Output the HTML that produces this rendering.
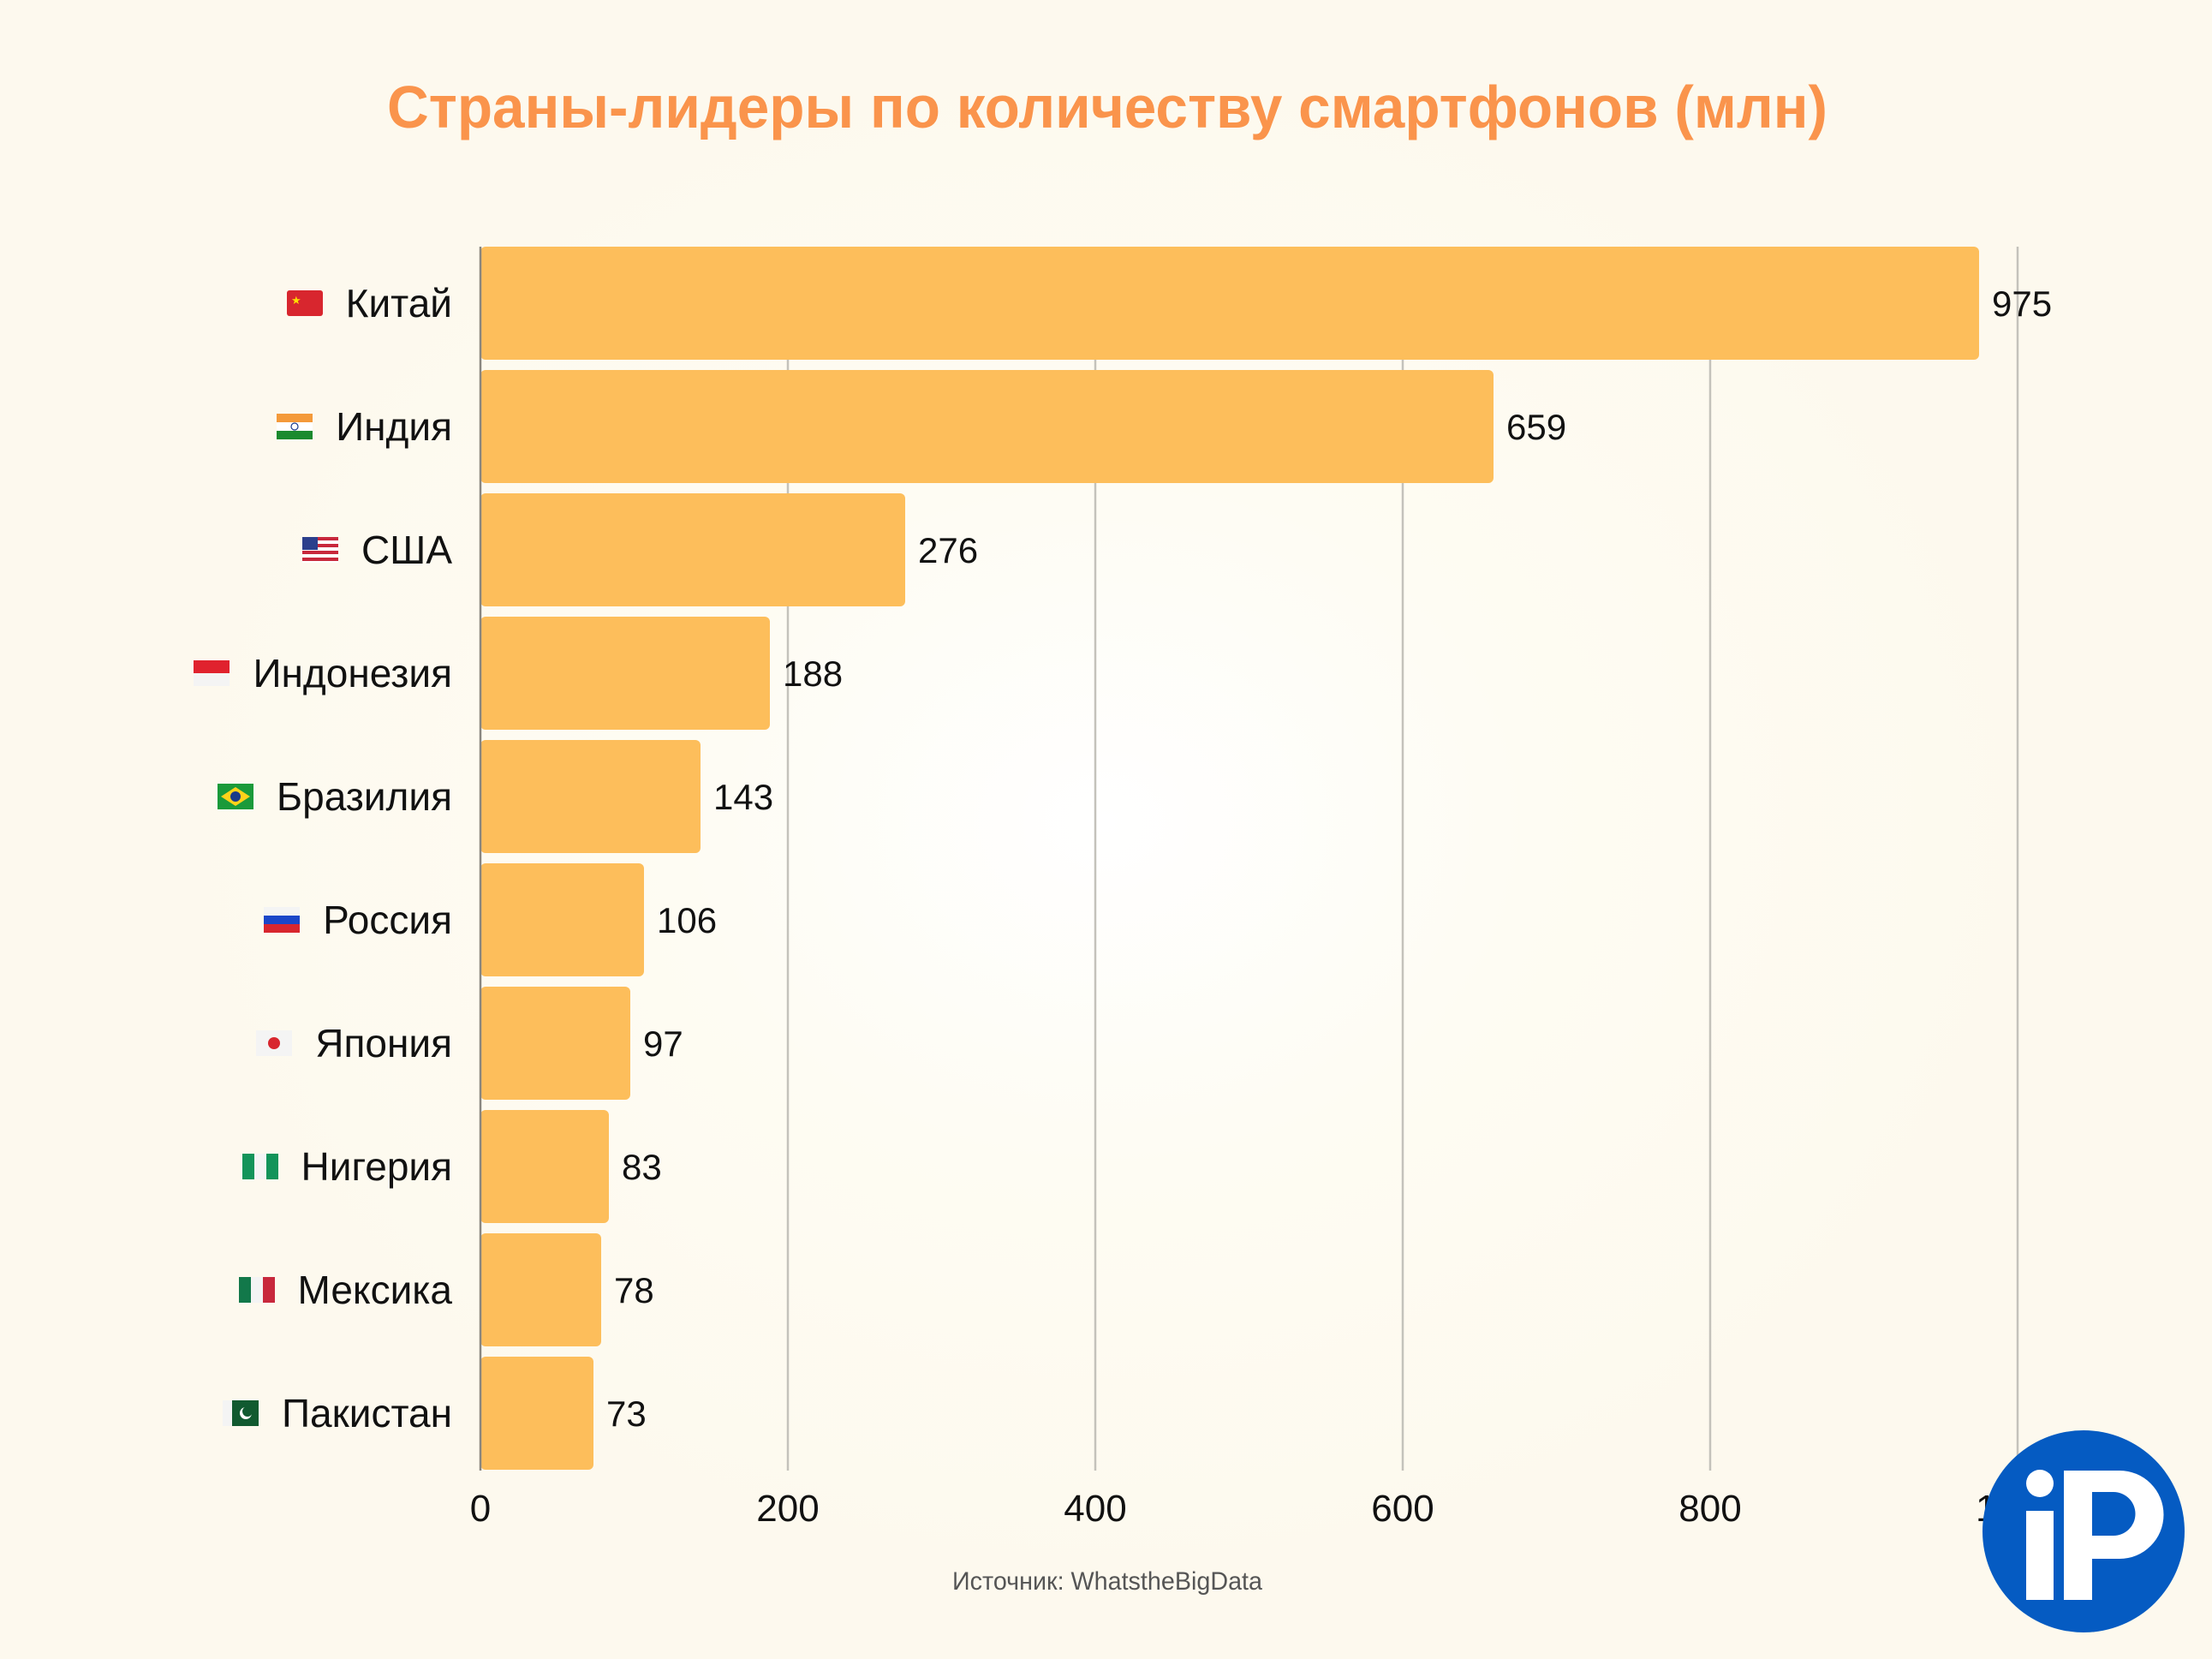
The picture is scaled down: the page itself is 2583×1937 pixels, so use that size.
<!DOCTYPE html>
<html><head><meta charset="utf-8">
<style>
html,body{margin:0;padding:0}
body{width:2583px;height:1937px;position:relative;overflow:hidden;
background:radial-gradient(ellipse 1100px 900px at 1290px 960px,#ffffff 0%,#fefcf3 45%,#fdf9ee 100%);
font-family:"Liberation Sans","DejaVu Sans",sans-serif;}
.lbl{position:absolute;right:2055px;height:60px;display:flex;align-items:center;font-size:46px;color:#111;white-space:nowrap}
.lbl svg{margin-right:27px}
</style></head><body>
<svg width="2583" height="1937" style="position:absolute;left:0;top:0">
<text x="1293" y="149" text-anchor="middle" font-family="Liberation Sans, sans-serif" font-weight="bold" font-size="70" fill="#fa944c" textLength="1682" lengthAdjust="spacingAndGlyphs">Страны-лидеры по количеству смартфонов (млн)</text>
<g stroke="#c4c2bb" stroke-width="2.5">
<line x1="920" y1="288" x2="920" y2="1717"/>
<line x1="1279" y1="288" x2="1279" y2="1717"/>
<line x1="1638" y1="288" x2="1638" y2="1717"/>
<line x1="1997" y1="288" x2="1997" y2="1717"/>
<line x1="2356" y1="288" x2="2356" y2="1717"/>
</g>
<g fill="#fdbe5b">
<rect x="561" y="288" width="1750" height="132" rx="6"/>
<rect x="561" y="432" width="1183" height="132" rx="6"/>
<rect x="561" y="576" width="496" height="132" rx="6"/>
<rect x="561" y="720" width="338" height="132" rx="6"/>
<rect x="561" y="864" width="257" height="132" rx="6"/>
<rect x="561" y="1008" width="191" height="132" rx="6"/>
<rect x="561" y="1152" width="175" height="132" rx="6"/>
<rect x="561" y="1296" width="150" height="132" rx="6"/>
<rect x="561" y="1440" width="141" height="132" rx="6"/>
<rect x="561" y="1584" width="132" height="132" rx="6"/>
</g>
<line x1="561" y1="288" x2="561" y2="1717" stroke="#8a8780" stroke-width="2.5"/>
<g font-family="Liberation Sans, sans-serif" font-size="42" fill="#111">
<text x="2326" y="369">975</text>
<text x="1759" y="513">659</text>
<text x="1072" y="657">276</text>
<text x="914" y="801">188</text>
<text x="833" y="945">143</text>
<text x="767" y="1089">106</text>
<text x="751" y="1233">97</text>
<text x="726" y="1377">83</text>
<text x="717" y="1521">78</text>
<text x="708" y="1665">73</text>
</g>
<g font-family="Liberation Sans, sans-serif" font-size="44" fill="#111" text-anchor="middle">
<text x="561" y="1776">0</text>
<text x="920" y="1776">200</text>
<text x="1279" y="1776">400</text>
<text x="1638" y="1776">600</text>
<text x="1997" y="1776">800</text>
<text x="2356" y="1776">1000</text>
</g>
<text x="1293" y="1856" text-anchor="middle" font-family="Liberation Sans, sans-serif" font-size="30" fill="#555" textLength="362" lengthAdjust="spacingAndGlyphs">Источник: WhatstheBigData</text>
<circle cx="2433" cy="1788" r="118" fill="#055bc2"/>
<circle cx="2382" cy="1732" r="16" fill="#fff"/>
<rect x="2366" y="1764" width="32" height="104" fill="#fff"/>
<path d="M2410 1717 H2475 A51.5 51.5 0 0 1 2475 1820 H2443 V1868 H2410 Z M2443 1742 V1793 H2468 A25.5 25.5 0 0 0 2468 1742 Z" fill="#fff" fill-rule="evenodd"/>
</svg>

<div class="lbl" style="top:324px"><svg width="42" height="30"><rect width="42" height="30" rx="3" fill="#d8262e"/><text x="5" y="16" font-size="13" fill="#ffde00">★</text></svg>Китай</div>
<div class="lbl" style="top:468px"><svg width="42" height="30"><rect width="42" height="10" fill="#f49a3a"/><rect y="10" width="42" height="10" fill="#fff"/><rect y="20" width="42" height="10" fill="#1a8a2e"/><circle cx="21" cy="15" r="4" fill="none" stroke="#1a3a8a" stroke-width="1.2"/></svg>Индия</div>
<div class="lbl" style="top:612px"><svg width="42" height="30"><rect width="42" height="30" fill="#fff"/><g fill="#c8283c"><rect y="0" width="42" height="4"/><rect y="8" width="42" height="4"/><rect y="16" width="42" height="4"/><rect y="24" width="42" height="4"/></g><rect width="18" height="15" fill="#2b3f8c"/></svg>США</div>
<div class="lbl" style="top:756px"><svg width="42" height="30"><rect width="42" height="15" fill="#e0222e"/><rect y="15" width="42" height="15" fill="#f4f4f4"/></svg>Индонезия</div>
<div class="lbl" style="top:900px"><svg width="42" height="30"><rect width="42" height="30" fill="#1a9a3a"/><polygon points="21,4 38,15 21,26 4,15" fill="#ffd21a"/><circle cx="21" cy="15" r="6" fill="#1a3a8a"/></svg>Бразилия</div>
<div class="lbl" style="top:1044px"><svg width="42" height="30"><rect width="42" height="10" fill="#f4f4f4"/><rect y="10" width="42" height="10" fill="#1a46c8"/><rect y="20" width="42" height="10" fill="#d8262e"/></svg>Россия</div>
<div class="lbl" style="top:1188px"><svg width="42" height="30"><rect width="42" height="30" fill="#f4f4f4"/><circle cx="21" cy="15" r="7" fill="#d8262e"/></svg>Япония</div>
<div class="lbl" style="top:1332px"><svg width="42" height="30"><rect width="14" height="30" fill="#12945a"/><rect x="14" width="14" height="30" fill="#f4f4f4"/><rect x="28" width="14" height="30" fill="#12945a"/></svg>Нигерия</div>
<div class="lbl" style="top:1476px"><svg width="42" height="30"><rect width="14" height="30" fill="#12784a"/><rect x="14" width="14" height="30" fill="#f4f4f4"/><rect x="28" width="14" height="30" fill="#c8283c"/></svg>Мексика</div>
<div class="lbl" style="top:1620px"><svg width="42" height="30"><rect width="42" height="30" fill="#115a30"/><rect width="11" height="30" fill="#f4f4f4"/><circle cx="27" cy="15" r="7" fill="#fff"/><circle cx="29" cy="13" r="6" fill="#115a30"/></svg>Пакистан</div>
</body></html>
